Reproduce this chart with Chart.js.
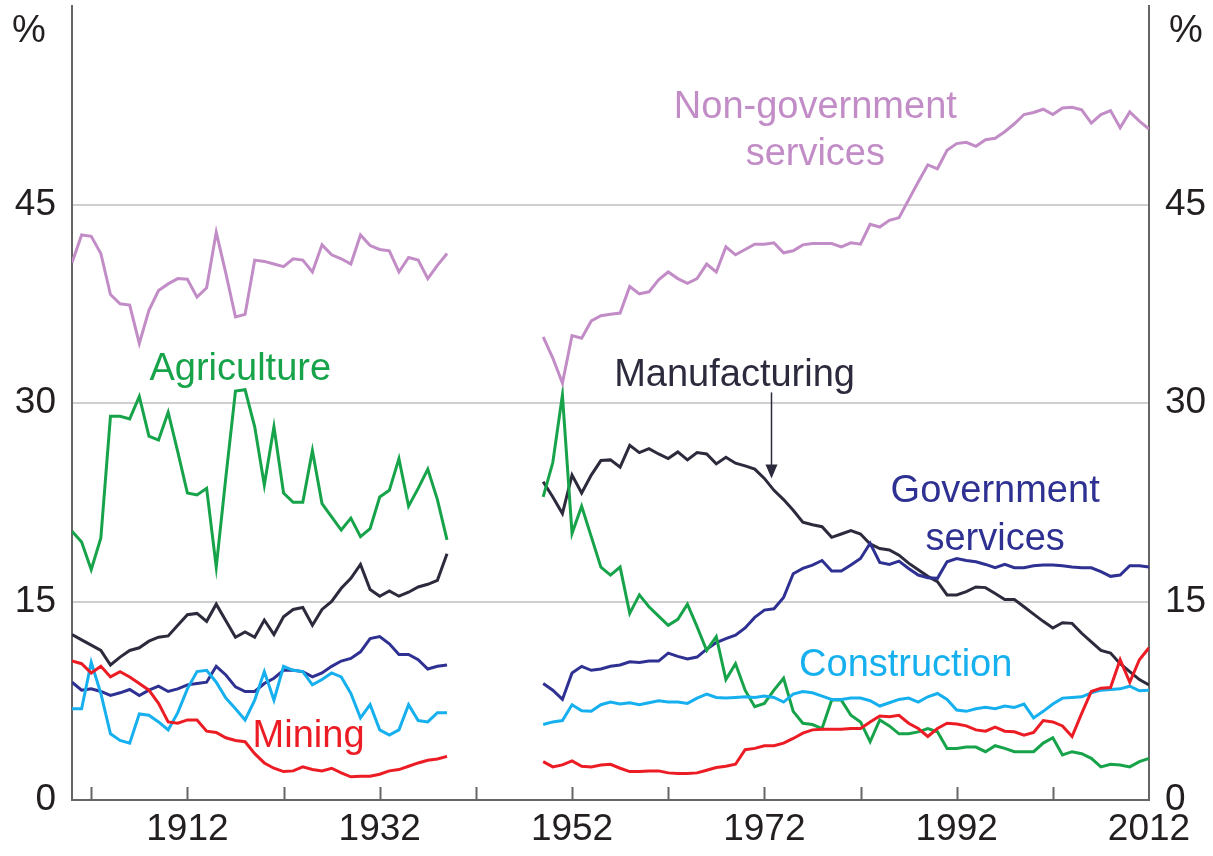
<!DOCTYPE html>
<html>
<head>
<meta charset="utf-8">
<script src="https://cdn.jsdelivr.net/npm/chart.js@4.4.0/dist/chart.umd.min.js"></script>
<style>
  html, body { margin: 0; padding: 0; background: #fff; }
  #wrap { width: 1213px; height: 856px; }
</style>
</head>
<body>
<div id="wrap"><canvas id="sectorChart" width="1213" height="856"></canvas></div>
<script>
// ===== data (share of output, %) =====
const years1 = [1900, 1901, 1902, 1903, 1904, 1905, 1906, 1907, 1908, 1909,
  1910, 1911, 1912, 1913, 1914, 1915, 1916, 1917, 1918, 1919,
  1920, 1921, 1922, 1923, 1924, 1925, 1926, 1927, 1928, 1929,
  1930, 1931, 1932, 1933, 1934, 1935, 1936, 1937, 1938, 1939];
const years2 = [1949, 1950, 1951, 1952, 1953, 1954, 1955, 1956, 1957, 1958,
  1959, 1960, 1961, 1962, 1963, 1964, 1965, 1966, 1967, 1968,
  1969, 1970, 1971, 1972, 1973, 1974, 1975, 1976, 1977, 1978,
  1979, 1980, 1981, 1982, 1983, 1984, 1985, 1986, 1987, 1988,
  1989, 1990, 1991, 1992, 1993, 1994, 1995, 1996, 1997, 1998,
  1999, 2000, 2001, 2002, 2003, 2004, 2005, 2006, 2007, 2008,
  2009, 2010, 2011, 2012];

const nonGov1 = [40.6, 42.7, 42.6, 41.3, 38.2, 37.5, 37.4, 34.5, 37.0, 38.5,
  39.0, 39.4, 39.35, 38.0, 38.7, 42.9, 39.8, 36.5, 36.7, 40.8,
  40.7, 40.5, 40.3, 40.9, 40.8, 39.9, 41.95, 41.2, 40.9, 40.5,
  42.7, 41.9, 41.6, 41.5, 39.9, 41.0, 40.8, 39.4, 40.4, 41.3];
const nonGov2 = [35.0, 33.4, 31.5, 35.1, 34.9, 36.2, 36.6, 36.7, 36.8, 38.8,
  38.25, 38.4, 39.3, 39.9, 39.4, 39.05, 39.4, 40.5, 39.9, 41.8,
  41.2, 41.6, 42.0, 42.0, 42.1, 41.35, 41.5, 41.95, 42.05, 42.05,
  42.05, 41.8, 42.1, 42.0, 43.5, 43.3, 43.8, 44.0, 45.35, 46.7,
  48.0, 47.7, 49.1, 49.6, 49.7, 49.4, 49.9, 50.0, 50.5, 51.1,
  51.8, 51.95, 52.2, 51.8, 52.3, 52.35, 52.15, 51.15, 51.8, 52.1,
  50.8, 52.0, 51.3, 50.7];

const agri1 = [20.3, 19.5, 17.4, 19.8, 29.0, 29.0, 28.8, 30.5, 27.5, 27.2,
  29.3, 26.3, 23.2, 23.05, 23.55, 17.6, 24.4, 30.9, 31.0, 28.2,
  23.8, 28.2, 23.2, 22.5, 22.5, 26.4, 22.4, 21.4, 20.4, 21.3,
  19.9, 20.5, 22.9, 23.4, 25.8, 22.2, 23.55, 25.0, 22.7, 19.65];
const agri2 = [22.9, 25.5, 30.6, 20.15, 22.2, 19.9, 17.6, 17.0, 17.6, 14.1,
  15.5, 14.6, 13.9, 13.2, 13.65, 14.8, 13.1, 11.3, 12.35, 9.1,
  10.3, 8.3, 7.05, 7.3, 8.3, 9.2, 6.7, 5.8, 5.7, 5.4,
  7.55, 7.55, 6.4, 5.9, 4.4, 6.05, 5.6, 5.0, 5.0, 5.15,
  5.4, 5.15, 3.9, 3.9, 4.0, 4.0, 3.65, 4.1, 3.9, 3.65,
  3.65, 3.65, 4.3, 4.7, 3.4, 3.65, 3.5, 3.15, 2.5, 2.7,
  2.65, 2.5, 2.9, 3.15];

const manuf1 = [12.5, 12.1, 11.7, 11.3, 10.2, 10.8, 11.3, 11.5, 12.0, 12.3,
  12.4, 13.2, 14.0, 14.1, 13.5, 14.8, 13.55, 12.3, 12.7, 12.3,
  13.6, 12.5, 13.85, 14.4, 14.55, 13.2, 14.4, 15.0, 16.0, 16.75,
  17.8, 15.9, 15.4, 15.8, 15.4, 15.7, 16.1, 16.3, 16.6, 18.6];
const manuf2 = [24.05, 22.9, 21.65, 24.55, 23.2, 24.55, 25.65, 25.7, 25.15, 26.8,
  26.25, 26.55, 26.15, 25.8, 26.3, 25.7, 26.25, 26.15, 25.4, 25.9,
  25.45, 25.25, 25.0, 24.3, 23.4, 22.7, 21.9, 21.0, 20.8, 20.65,
  19.85, 20.1, 20.35, 20.1, 19.35, 19.0, 18.9, 18.5, 17.9, 17.4,
  16.9, 16.5, 15.5, 15.5, 15.75, 16.1, 16.05, 15.6, 15.15, 15.15,
  14.6, 14.05, 13.5, 13.0, 13.4, 13.35, 12.6, 11.95, 11.3, 11.1,
  10.3, 9.7, 9.1, 8.7];

const gov1 = [8.9, 8.3, 8.4, 8.2, 7.9, 8.1, 8.35, 7.9, 8.3, 8.6,
  8.2, 8.4, 8.7, 8.8, 8.9, 10.1, 9.45, 8.55, 8.2, 8.2,
  8.8, 9.2, 9.8, 9.8, 9.7, 9.3, 9.6, 10.1, 10.5, 10.7,
  11.2, 12.2, 12.35, 11.8, 11.0, 11.0, 10.6, 9.9, 10.1, 10.2];
const gov2 = [8.8, 8.3, 7.6, 9.6, 10.1, 9.8, 9.9, 10.1, 10.2, 10.45,
  10.4, 10.5, 10.5, 11.1, 10.85, 10.65, 10.8, 11.4, 11.9, 12.2,
  12.45, 13.0, 13.8, 14.35, 14.45, 15.3, 17.1, 17.5, 17.75, 18.1,
  17.3, 17.3, 17.75, 18.25, 19.4, 17.95, 17.8, 18.05, 17.5, 17.0,
  16.8, 16.75, 18.0, 18.25, 18.1, 18.0, 17.8, 17.55, 17.8, 17.55,
  17.55, 17.7, 17.75, 17.75, 17.7, 17.6, 17.55, 17.55, 17.25, 16.9,
  17.0, 17.7, 17.7, 17.6];

const constr1 = [6.9, 6.9, 10.4, 8.05, 5.0, 4.5, 4.3, 6.5, 6.4, 5.9,
  5.3, 6.6, 8.4, 9.7, 9.8, 8.9, 7.7, 6.9, 6.05, 7.55,
  9.7, 7.55, 10.1, 9.8, 9.7, 8.7, 9.1, 9.6, 9.3, 8.05,
  6.2, 7.2, 5.3, 4.9, 5.3, 7.2, 6.0, 5.9, 6.6, 6.6];
const constr2 = [5.7, 5.9, 6.0, 7.2, 6.75, 6.7, 7.2, 7.4, 7.25, 7.35,
  7.2, 7.35, 7.5, 7.4, 7.4, 7.3, 7.7, 8.0, 7.75, 7.7,
  7.75, 7.8, 7.75, 7.85, 7.75, 7.4, 8.0, 8.2, 8.1, 7.85,
  7.6, 7.6, 7.7, 7.7, 7.5, 7.1, 7.35, 7.6, 7.7, 7.4,
  7.8, 8.05, 7.6, 6.8, 6.7, 6.9, 7.0, 6.9, 7.1, 7.0,
  7.25, 6.2, 6.7, 7.25, 7.7, 7.75, 7.8, 8.1, 8.3, 8.35,
  8.4, 8.6, 8.25, 8.3];

const mining1 = [10.5, 10.3, 9.6, 10.1, 9.3, 9.7, 9.3, 8.8, 8.3, 7.3,
  5.9, 5.8, 6.05, 6.05, 5.2, 5.1, 4.7, 4.5, 4.4, 3.5,
  2.8, 2.4, 2.15, 2.2, 2.5, 2.3, 2.2, 2.4, 2.05, 1.75,
  1.8, 1.8, 1.95, 2.2, 2.3, 2.55, 2.8, 3.0, 3.1, 3.3];
const mining2 = [2.9, 2.5, 2.65, 2.95, 2.55, 2.5, 2.65, 2.7, 2.4, 2.15,
  2.15, 2.2, 2.2, 2.05, 2.0, 2.0, 2.05, 2.25, 2.45, 2.55,
  2.7, 3.8, 3.9, 4.1, 4.1, 4.3, 4.65, 5.05, 5.3, 5.35,
  5.35, 5.35, 5.4, 5.4, 5.9, 6.35, 6.3, 6.4, 5.8, 5.4,
  4.8, 5.4, 5.8, 5.75, 5.6, 5.3, 5.2, 5.5, 5.2, 5.15,
  4.9, 5.1, 6.0, 5.9, 5.6, 4.8, 6.55, 8.2, 8.45, 8.5,
  10.6, 8.9, 10.6, 11.5];

const xTickMarks = [1902, 1912, 1922, 1932, 1942, 1952, 1962, 1972, 1982, 1992, 2002, 2012];
const xTickLabels = [1912, 1932, 1952, 1972, 1992, 2012];
const yTicks = [0, 15, 30, 45];

// ===== styling =====
const FONT = '"Liberation Sans", Arial, Helvetica, sans-serif';
const AXIS_GREY = '#666666';
const TEXT = '#231f20';

const COLORS = {
  nonGov: '#c28dc7',
  agri: '#17a34a',
  manuf: '#2c2b3d',
  gov: '#2e3192',
  constr: '#17b0ef',
  mining: '#ec1c24'
};

// 两段数据，中间用 null 断开（战争年代无数据）
function joinSeries(first, second) {
  return years1.map((yr, i) => ({ x: yr, y: first[i] }))
    .concat([{ x: 1944, y: null }])
    .concat(years2.map((yr, i) => ({ x: yr, y: second[i] })));
}

function line(label, color, a, b) {
  return {
    label: label,
    data: joinSeries(a, b),
    borderColor: color,
    backgroundColor: color,
    borderWidth: 3,
    pointRadius: 0,
    tension: 0,
    spanGaps: false
  };
}

// ===== labels drawn on the chart =====
const annotations = [
  { lines: ['Non-government', 'services'], x: 1977.3, y: 52.3, gap: 3.55, color: COLORS.nonGov },
  { lines: ['Agriculture'], x: 1917.5, y: 32.5, color: COLORS.agri },
  { lines: ['Manufacturing'], x: 1968.9, y: 32.1, color: COLORS.manuf },
  { lines: ['Government', 'services'], x: 1996.0, y: 23.3, gap: 3.6, color: COLORS.gov },
  { lines: ['Construction'], x: 1986.7, y: 10.2, color: COLORS.constr },
  { lines: ['Mining'], x: 1924.6, y: 4.8, color: COLORS.mining }
];

const decorPlugin = {
  id: 'decor',
  afterDraw(chart) {
    const { ctx, chartArea, scales } = chart;
    const xs = scales.x, ys = scales.y;
    ctx.save();

    // inward tick marks on the bottom axis
    ctx.strokeStyle = AXIS_GREY;
    ctx.lineWidth = 2;
    xTickMarks.forEach(v => {
      if (v >= 2012) return;
      const px = Math.round(xs.getPixelForValue(v)) + 0.5;
      ctx.beginPath();
      ctx.moveTo(px, chartArea.bottom);
      ctx.lineTo(px, chartArea.bottom - 13);
      ctx.stroke();
    });

    // % units
    ctx.fillStyle = TEXT;
    ctx.font = '38px ' + FONT;
    ctx.textBaseline = 'middle';
    ctx.textAlign = 'center';
    ctx.fillText('%', 29, 32);
    ctx.fillText('%', 1186, 32);

    // series labels
    ctx.font = '38px ' + FONT;
    annotations.forEach(a => {
      ctx.fillStyle = a.color;
      a.lines.forEach((t, i) => {
        const px = xs.getPixelForValue(a.x);
        const py = ys.getPixelForValue(a.y - i * (a.gap || 0));
        ctx.fillText(t, px, py);
      });
    });

    // arrow pointing at manufacturing
    const ax = Math.round(xs.getPixelForValue(1972.7)) + 0.5;
    const y0 = ys.getPixelForValue(30.8);
    const y1 = ys.getPixelForValue(24.3);
    ctx.strokeStyle = COLORS.manuf;
    ctx.fillStyle = COLORS.manuf;
    ctx.lineWidth = 1.5;
    ctx.beginPath();
    ctx.moveTo(ax, y0);
    ctx.lineTo(ax, y1 - 10);
    ctx.stroke();
    ctx.beginPath();
    ctx.moveTo(ax - 6, y1 - 14);
    ctx.lineTo(ax + 6, y1 - 14);
    ctx.lineTo(ax, y1);
    ctx.closePath();
    ctx.fill();

    ctx.restore();
  }
};

const yTickOpts = {
  color: TEXT,
  padding: 16,
  font: { size: 37, family: FONT },
  callback: v => String(v)
};

// 固定纵轴宽度，并去掉首尾标签带来的额外上下留白
function fixYAxis(width) {
  return axis => {
    axis.width = width;
    axis.paddingTop = 0;
    axis.paddingBottom = 0;
  };
}

new Chart(document.getElementById('sectorChart'), {
  type: 'line',
  data: {
    datasets: [
      line('Non-government services', COLORS.nonGov, nonGov1, nonGov2),
      line('Mining', COLORS.mining, mining1, mining2),
      line('Construction', COLORS.constr, constr1, constr2),
      line('Agriculture', COLORS.agri, agri1, agri2),
      line('Government services', COLORS.gov, gov1, gov2),
      line('Manufacturing', COLORS.manuf, manuf1, manuf2)
    ]
  },
  options: {
    responsive: false,
    animation: false,
    layout: { padding: { top: 6, left: 0, right: 0, bottom: 0 } },
    plugins: {
      legend: { display: false },
      tooltip: { enabled: false }
    },
    scales: {
      x: {
        type: 'linear',
        min: 1900,
        max: 2012,
        afterBuildTicks: axis => { axis.ticks = xTickMarks.map(v => ({ value: v })); },
        afterFit: axis => { axis.height = 56; },
        ticks: {
          autoSkip: false,
          maxRotation: 0,
          padding: 8,
          color: TEXT,
          font: { size: 37, family: FONT },
          callback: v => (xTickLabels.includes(v) ? String(v) : '')
        },
        grid: { drawOnChartArea: false, drawTicks: false },
        border: { color: AXIS_GREY, width: 2 }
      },
      y: {
        position: 'left',
        min: 0,
        max: 60,
        afterBuildTicks: axis => { axis.ticks = yTicks.map(v => ({ value: v })); },
        afterFit: fixYAxis(72),
        ticks: yTickOpts,
        grid: {
          drawTicks: false,
          lineWidth: 2,
          color: c => (c.tick && c.tick.value === 0 ? 'rgba(0,0,0,0)' : '#cfcfcf')
        },
        border: { color: AXIS_GREY, width: 2 }
      },
      y2: {
        position: 'right',
        min: 0,
        max: 60,
        afterBuildTicks: axis => { axis.ticks = yTicks.map(v => ({ value: v })); },
        afterFit: fixYAxis(64),
        ticks: yTickOpts,
        grid: { drawOnChartArea: false, drawTicks: false },
        border: { color: AXIS_GREY, width: 2 }
      }
    }
  },
  plugins: [decorPlugin]
});
</script>
</body>
</html>
